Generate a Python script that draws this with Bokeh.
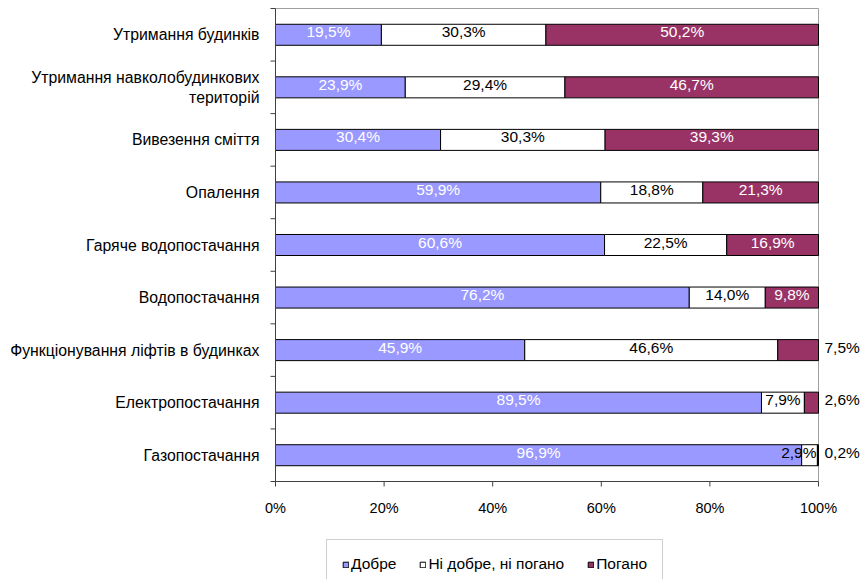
from bokeh.plotting import figure
from bokeh.models import (ColumnDataSource, Legend, LegendItem, FixedTicker,
                          Range1d)
from bokeh.core.properties import value
from bokeh.embed import file_html
from bokeh.resources import INLINE

# Survey: assessment of housing and utility services (share of answers)
categories = [
    "Утримання будинків",
    "Утримання навколобудинкових\nтериторій",
    "Вивезення сміття",
    "Опалення",
    "Гаряче водопостачання",
    "Водопостачання",
    "Функціонування ліфтів в будинках",
    "Електропостачання",
    "Газопостачання",
]
good = [19.5, 23.9, 30.4, 59.9, 60.6, 76.2, 45.9, 89.5, 96.9]
neutral = [30.3, 29.4, 30.3, 18.8, 22.5, 14.0, 46.6, 7.9, 2.9]
bad = [50.2, 46.7, 39.3, 21.3, 16.9, 9.8, 7.5, 2.6, 0.2]
series_names = ["Добре", "Ні добре, ні погано", "Погано"]
x_ticks = [0, 0.2, 0.4, 0.6, 0.8, 1.0]
x_tick_labels = ["0%", "20%", "40%", "60%", "80%", "100%"]

FONT = "Liberation Sans"
C_GOOD = "#9999FF"
C_NEUTRAL = "#FFFFFF"
C_BAD = "#993366"
AXIS = "#404040"
FRAME = "#A0A0A0"

W, H = 860, 579
# pixel geometry of the plotting area
X0_PX, X1_PX = 275, 818      # 0% and 100%
Y_TOP_PX, Y_BOT_PX = 8, 481  # top and bottom of the category band
n = len(categories)
ppx = X1_PX - X0_PX               # pixels per 100 %
ppy = (Y_BOT_PX - Y_TOP_PX) / n   # pixels per category
frame_left = X0_PX - 13
frame_top = Y_TOP_PX - 1
label_w = 40 / ppx                # approximate width of a value label

# first category at the top
ys = [n - 1 - i + 0.5 for i in range(n)]


def fmt(v):
    return f"{v:.1f}".replace(".", ",") + "%"


g = [v / 100 for v in good]
m = [v / 100 for v in neutral]
b = [v / 100 for v in bad]
g_end = g
m_end = [a + c for a, c in zip(g, m)]
b_end = [a + c for a, c in zip(m_end, b)]

src_good = ColumnDataSource(dict(y=ys, left=[0] * n, right=g_end,
                                 xc=[r / 2 for r in g_end],
                                 txt=[fmt(v) for v in good]))
src_neu = ColumnDataSource(dict(y=ys, left=g_end, right=m_end))
src_bad = ColumnDataSource(dict(y=ys, left=m_end, right=b_end))

# neutral labels are kept inside the plot area
neu_c = [(l + r) / 2 for l, r in zip(g_end, m_end)]
fits = [c + label_w / 2 <= 1 for c in neu_c]
src_neu_c = ColumnDataSource(dict(
    y=[ys[i] for i in range(n) if fits[i]],
    xc=[neu_c[i] for i in range(n) if fits[i]],
    txt=[fmt(neutral[i]) for i in range(n) if fits[i]]))
src_neu_r = ColumnDataSource(dict(
    y=[ys[i] for i in range(n) if not fits[i]],
    xc=[1.0 for i in range(n) if not fits[i]],
    txt=[fmt(neutral[i]) for i in range(n) if not fits[i]]))

# small "bad" shares are labelled outside the bar, to the right
inside_idx = [i for i, v in enumerate(bad) if v >= 9]
outside_idx = [i for i, v in enumerate(bad) if v < 9]
src_bad_in = ColumnDataSource(dict(
    y=[ys[i] for i in inside_idx],
    xc=[(m_end[i] + b_end[i]) / 2 for i in inside_idx],
    txt=[fmt(bad[i]) for i in inside_idx]))
src_bad_out = ColumnDataSource(dict(
    y=[ys[i] for i in outside_idx],
    xc=[b_end[i] for i in outside_idx],
    txt=[fmt(bad[i]) for i in outside_idx]))

x_start = -(X0_PX - frame_left) / ppx
x_end = (W - X0_PX) / ppx
y_end = n + (Y_TOP_PX - frame_top) / ppy
y_start = -(H - Y_BOT_PX) / ppy

p = figure(width=W, height=H, output_backend="svg", toolbar_location=None,
           x_range=Range1d(x_start, x_end), y_range=Range1d(y_start, y_end),
           x_axis_location=None,
           min_border_left=frame_left, min_border_right=0,
           min_border_top=frame_top, min_border_bottom=0)
p.background_fill_color = "white"
p.border_fill_color = "white"
p.outline_line_color = None
p.xgrid.visible = False
p.ygrid.visible = False

# plot-area frame (top and right, light grey)
p.segment(x0=[0, 1], y0=[n, 0], x1=[1, 1], y1=[n, n],
          line_color=FRAME, line_width=1)

bh = 0.4
r_good = p.hbar(y="y", left="left", right="right", height=bh, source=src_good,
                fill_color=C_GOOD, line_color="black", line_width=1)
r_neu = p.hbar(y="y", left="left", right="right", height=bh, source=src_neu,
               fill_color=C_NEUTRAL, line_color="black", line_width=1)
r_bad = p.hbar(y="y", left="left", right="right", height=bh, source=src_bad,
               fill_color=C_BAD, line_color="black", line_width=1)

# value labels
lab = dict(text_font=value(FONT), text_font_size="15.5px",
           text_baseline="middle", y_offset=-3)
p.text(x="xc", y="y", text="txt", source=src_good, text_color="white",
       text_align="center", **lab)
p.text(x="xc", y="y", text="txt", source=src_neu_c, text_color="black",
       text_align="center", **lab)
p.text(x="xc", y="y", text="txt", source=src_neu_r, text_color="black",
       text_align="right", x_offset=-2, **lab)
p.text(x="xc", y="y", text="txt", source=src_bad_in, text_color="white",
       text_align="center", **lab)
p.text(x="xc", y="y", text="txt", source=src_bad_out, text_color="black",
       text_align="left", x_offset=6, **lab)

# horizontal (value) axis drawn in data space
p.segment(x0=[0], y0=[0], x1=[1], y1=[0], line_color=AXIS, line_width=1)
p.segment(x0=x_ticks, y0=[0] * len(x_ticks), x1=x_ticks,
          y1=[-5 / ppy] * len(x_ticks), line_color=AXIS, line_width=1)
p.text(x=x_ticks, y=[0] * len(x_ticks), text=x_tick_labels,
       text_font=value(FONT), text_font_size="14.5px", text_color="black",
       text_align="center", text_baseline="middle", y_offset=26)

# category axis: line and ticks between categories
bounds = list(range(n + 1))
p.segment(x0=[0], y0=[0], x1=[0], y1=[n], line_color=AXIS, line_width=1)
p.segment(x0=[-5 / ppx] * len(bounds), y0=bounds, x1=[0] * len(bounds),
          y1=bounds, line_color=AXIS, line_width=1)

# category names via the y axis labels
p.yaxis.ticker = FixedTicker(ticks=ys, minor_ticks=[])
p.yaxis.major_label_overrides = {y: c for y, c in zip(ys, categories)}
p.yaxis.axis_line_color = None
p.yaxis.major_tick_line_color = None
p.yaxis.minor_tick_line_color = None
p.yaxis.major_tick_out = 0
p.yaxis.major_tick_in = 0
p.yaxis.minor_tick_out = 0
p.yaxis.minor_tick_in = 0
p.yaxis.major_label_standoff = 3
p.yaxis.major_label_text_font = FONT
p.yaxis.major_label_text_font_size = "15.8px"
p.yaxis.major_label_text_color = "black"

legend = Legend(items=[LegendItem(label=series_names[0], renderers=[r_good]),
                       LegendItem(label=series_names[1], renderers=[r_neu]),
                       LegendItem(label=series_names[2], renderers=[r_bad])],
                orientation="horizontal", location=(326 - frame_left, -10),
                glyph_width=7, glyph_height=7, label_standoff=2,
                spacing=23, padding=15, label_height=14,
                label_text_font=FONT, label_text_font_size="15.5px",
                label_text_color="black",
                border_line_color=FRAME, border_line_width=1,
                background_fill_color="white", background_fill_alpha=1)
p.add_layout(legend, "center")

open("out.html", "w").write(file_html(p, INLINE))
